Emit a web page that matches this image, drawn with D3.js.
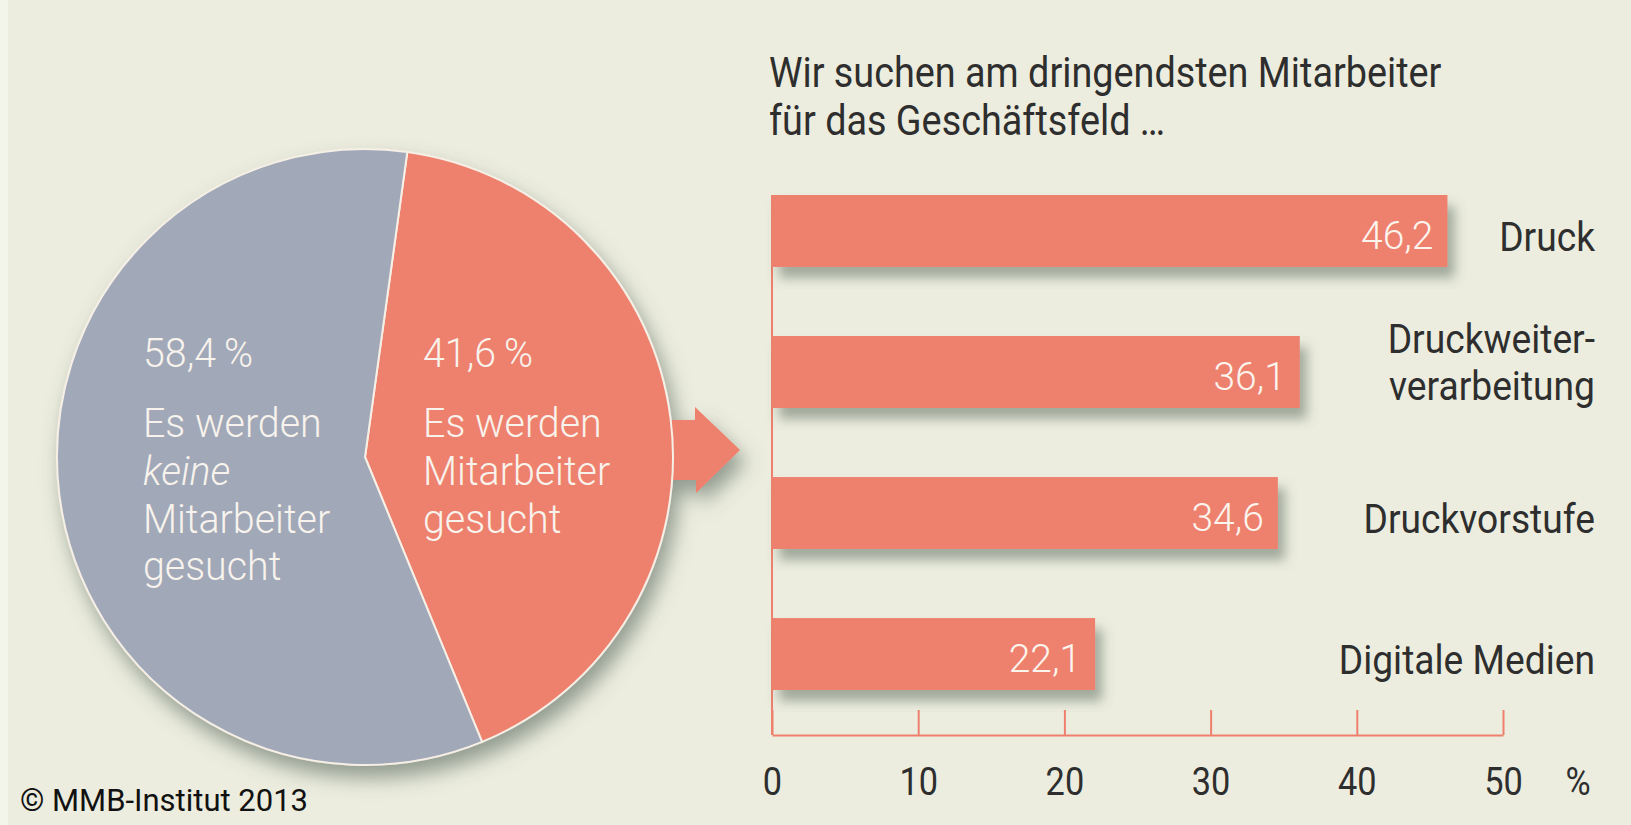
<!DOCTYPE html>
<html>
<head>
<meta charset="utf-8">
<script src="https://cdn.jsdelivr.net/npm/d3@7"></script>
<style>
  body { margin: 0; background: #ecedde; }
  svg { display: block; }
  text { font-family: Roboto, "Liberation Sans", sans-serif; }
</style>
</head>
<body>
<div id="chart"></div>
<script>
// pie: share of companies looking for staff
let pieLabels = ['41,6\u2009%', '58,4\u2009%']
let pieValues = [41.6, 58.4]
let pieText = [
    ['Es werden', 'Mitarbeiter', 'gesucht'],
    ['Es werden', 'keine', 'Mitarbeiter', 'gesucht']
]

// bars: most urgent business field
let categories = ['Druck', 'Druckweiter-\nverarbeitung', 'Druckvorstufe', 'Digitale Medien']
let barValues = [46.2, 36.1, 34.6, 22.1]
let barLabels = ['46,2', '36,1', '34,6', '22,1']
let tickValues = [0, 10, 20, 30, 40, 50]

let title = ['Wir suchen am dringendsten Mitarbeiter', 'f\u00fcr das Gesch\u00e4ftsfeld \u2026']
let source = '\u00a9 MMB-Institut 2013'

let svgWidth = 1631
let svgHeight = 825

let salmon = '#ee816e'
let grey = '#a1a8b8'
let ink = '#2e2e2e'

let svg = d3.select('#chart')
    .append('svg')
    .attr('width', svgWidth)
    .attr('height', svgHeight)

svg.append('rect')
    .attr('width', svgWidth)
    .attr('height', svgHeight)
    .attr('fill', '#ecedde')

svg.append('rect')
    .attr('width', 8)
    .attr('height', svgHeight)
    .attr('fill', '#f3f4ea')

let defs = svg.append('defs')

let addShadow = (id, dx, dy, blur, op) => {
    defs.append('filter')
        .attr('id', id)
        .attr('x', '-20%').attr('y', '-20%')
        .attr('width', '150%').attr('height', '150%')
        .append('feDropShadow')
        .attr('dx', dx)
        .attr('dy', dy)
        .attr('stdDeviation', blur)
        .attr('flood-color', '#55665a')
        .attr('flood-opacity', op)
}
addShadow('pieShadow', 6, 12, 10, 0.6)
addShadow('barShadow', 7, 11, 6, 0.5)

// the original uses a condensed face, so squeeze text horizontally round its anchor
const squeeze = (ax, sx) => `translate(${ax}, 0) scale(${sx}, 1) translate(${-ax}, 0)`

// ---------- pie ----------
let cx = 365, cy = 457, radius = 308

let pieGroup = svg.append('g')
    .attr('transform', `translate(${cx}, ${cy})`)
    .attr('filter', 'url(#pieShadow)')

let startA = 7.9 * Math.PI / 180
let pie = d3.pie().sort(null).startAngle(startA).endAngle(startA + 2 * Math.PI)
let arc = d3.arc().innerRadius(0).outerRadius(radius)

// arrow coming out of the salmon slice
let ay = -7
let arrow = d3.path()
arrow.moveTo(radius - 40, ay - 30)
arrow.lineTo(330, ay - 30)
arrow.lineTo(330, ay - 43)
arrow.lineTo(375, ay)
arrow.lineTo(331, ay + 43)
arrow.lineTo(331, ay + 30)
arrow.lineTo(radius - 40, ay + 30)
arrow.closePath()

pieGroup.append('path')
    .attr('d', arrow.toString())
    .attr('fill', salmon)

pieGroup.selectAll('path.slice')
    .data(pie(pieValues))
    .enter()
    .append('path')
    .classed('slice', true)
    .attr('d', arc)
    .attr('fill', (d, i) => i === 0 ? salmon : grey)
    .attr('stroke', '#f6efe6')
    .attr('stroke-width', 2)

let pieTextX = [423, 143]
let pieLines = [367, 437, 485, 533, 580]

pieText.forEach((lines, i) => {
    let t = svg.append('text')
        .attr('fill', '#f8f3ec')
        .attr('font-weight', 300)
        .attr('font-size', 41)
        .attr('transform', squeeze(pieTextX[i], 0.96))

    t.append('tspan')
        .attr('x', pieTextX[i])
        .attr('y', pieLines[0])
        .text(pieLabels[i])

    lines.forEach((l, j) => {
        t.append('tspan')
            .attr('x', pieTextX[i])
            .attr('y', pieLines[j + 1])
            .attr('font-style', l === 'keine' ? 'italic' : null)
            .text(l)
    })
})

// ---------- bars ----------
let xScale = d3.scaleLinear()
    .domain([0, 50])
    .range([772, 1503])

let yScale = d3.scaleBand()
    .domain(categories)
    .range([195, 690])
    .paddingInner(0.49)
    .paddingOuter(0)

let axisY = 735

svg.append('line')
    .attr('x1', xScale(0))
    .attr('x2', xScale(0))
    .attr('y1', yScale.range()[0])
    .attr('y2', axisY)
    .attr('stroke', salmon)
    .attr('stroke-width', 2)

let xAxis = svg.append('g')
    .attr('transform', `translate(0, ${axisY})`)
    .call(d3.axisBottom(xScale)
        .tickValues(tickValues)
        .tickSizeInner(-25)
        .tickSizeOuter(0)
        .tickPadding(32))

xAxis.selectAll('path, line')
    .attr('stroke', salmon)
    .attr('stroke-width', 2)
xAxis.selectAll('text')
    .attr('font-family', 'Roboto, sans-serif')
    .attr('font-size', 39)
    .attr('fill', ink)
    .attr('transform', 'scale(0.88, 1)')

svg.append('text')
    .attr('x', 1578)
    .attr('y', 795)
    .attr('text-anchor', 'middle')
    .attr('font-size', 39)
    .attr('fill', ink)
    .attr('transform', squeeze(1578, 0.88))
    .text('%')

let bars = svg.selectAll('g.bar')
    .data(categories)
    .enter()
    .append('g')
    .classed('bar', true)

bars.append('rect')
    .attr('x', xScale(0))
    .attr('y', d => yScale(d))
    .attr('width', (d, i) => xScale(barValues[i]) - xScale(0))
    .attr('height', yScale.bandwidth())
    .attr('fill', salmon)
    .attr('filter', 'url(#barShadow)')

bars.append('text')
    .attr('x', (d, i) => xScale(barValues[i]) - 14)
    .attr('y', d => yScale(d) + yScale.bandwidth() / 2 + 18)
    .attr('text-anchor', 'end')
    .attr('font-weight', 300)
    .attr('font-size', 39)
    .attr('fill', '#fbf5ee')
    .text((d, i) => barLabels[i])

let labelX = 1595
bars.each(function (d) {
    let lines = d.split('\n')
    let mid = yScale(d) + yScale.bandwidth() / 2
    lines.forEach((l, j) => {
        d3.select(this).append('text')
            .attr('x', labelX)
            .attr('y', lines.length === 1 ? mid + 20 : mid - 19 + j * 47)
            .attr('text-anchor', 'end')
            .attr('font-size', 40)
            .attr('fill', ink)
            .attr('transform', squeeze(labelX, 0.93))
            .text(l)
    })
})

// ---------- title and source ----------
let titleX = 769
let titleText = svg.append('text')
    .attr('font-size', 42)
    .attr('fill', ink)
    .attr('transform', squeeze(titleX, 0.9))

title.forEach((l, i) => {
    titleText.append('tspan')
        .attr('x', titleX)
        .attr('y', 87 + i * 48)
        .text(l)
})

svg.append('text')
    .attr('x', 20)
    .attr('y', 811)
    .attr('font-family', '"Open Sans", sans-serif')
    .attr('font-size', 31)
    .attr('fill', '#111')
    .text(source)
</script>
</body>
</html>
